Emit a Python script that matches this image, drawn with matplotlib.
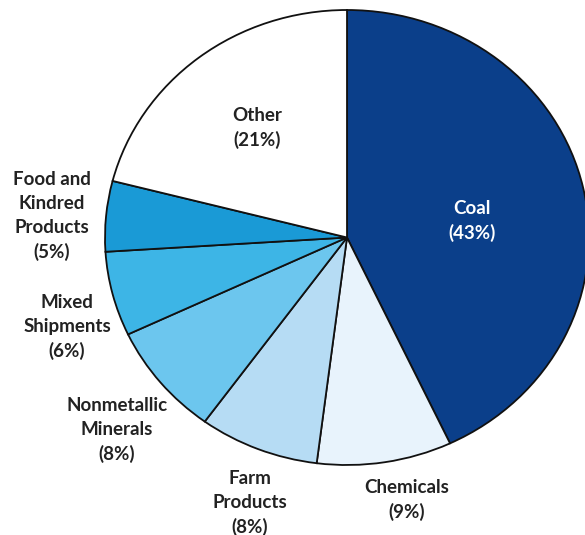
import matplotlib
matplotlib.use("Agg")
import matplotlib.pyplot as plt

# ---- data ----
categories = ["Coal", "Chemicals", "Farm Products", "Nonmetallic Minerals",
              "Mixed Shipments", "Food and Kindred Products", "Other"]
shares = [43, 9, 8, 8, 6, 5, 21]
label_texts = ["Coal\n(43%)", "Chemicals\n(9%)", "Farm\nProducts\n(8%)",
               "Nonmetallic\nMinerals\n(8%)", "Mixed\nShipments\n(6%)",
               "Food and\nKindred\nProducts\n(5%)", "Other\n(21%)"]
colors = ["#0b3f8a", "#e8f3fc", "#b6dcf4", "#6cc6ee", "#3db5e6", "#1a9ad6", "#ffffff"]
text_colors = ["white", "#222222", "#222222", "#222222", "#222222", "#222222", "#222222"]

# ---- layout (pixels) ----
W, H = 585, 535
cx, cy = 347, 237.5          # pie centre (from top)
rx, ry = 242, 227.5          # horizontal / vertical radius in pixels
label_px = [(472, 221), (407, 500), (250, 503), (117, 430), (67, 327), (52, 216), (257, 128)]

fig = plt.figure(figsize=(W / 100, H / 100), dpi=100)
ax = fig.add_axes([0, 0, 1, 1])

ax.pie(shares, colors=colors, startangle=90, counterclock=False,
       wedgeprops=dict(edgecolor="#111111", linewidth=1.3), radius=1)

ax.set_aspect("auto")
ax.set_xlim(-cx / rx, (W - cx) / rx)
ax.set_ylim(-(H - cy) / ry, cy / ry)
ax.axis("off")

def px2data(x, y):
    return (x - cx) / rx, (cy - y) / ry

for txt, (px, py), tc in zip(label_texts, label_px, text_colors):
    dx, dy = px2data(px, py)
    ax.text(dx, dy, txt, ha="center", va="center", color=tc,
            fontsize=13.5, fontweight="bold", family=["Lato", "DejaVu Sans"],
            linespacing=1.48)

fig.savefig("out.png", dpi=100)
